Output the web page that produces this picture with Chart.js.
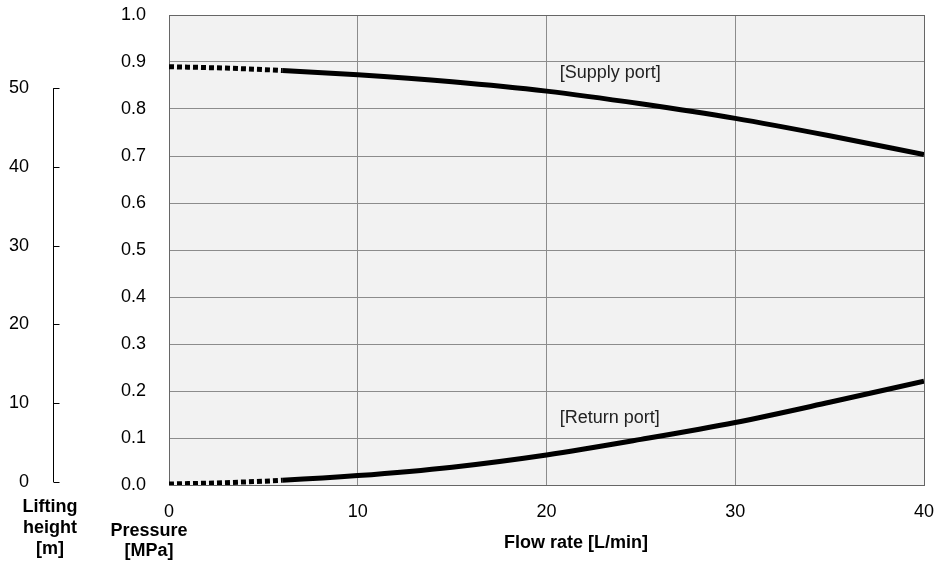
<!DOCTYPE html>
<html>
<head>
<meta charset="utf-8">
<script src="https://cdn.jsdelivr.net/npm/chart.js@4/dist/chart.umd.min.js"></script>
<style>
html,body{margin:0;padding:0;background:#fff;}
#wrap{width:939px;height:562px;}
</style>
</head>
<body>
<div id="wrap"><canvas id="c" width="939" height="562"></canvas></div>
<script>
// ---- data ----
const flowRate = [0, 3, 6, 10, 15, 20, 25, 30, 35, 40];              // L/min
const supplyPressure = [0.890, 0.887, 0.882, 0.873, 0.858, 0.838, 0.811, 0.780, 0.743, 0.703]; // MPa
const returnPressure = [0.002, 0.005, 0.010, 0.020, 0.038, 0.064, 0.097, 0.133, 0.176, 0.221]; // MPa
const dottedUntil = 6;          // curves drawn dotted below this flow rate
const xTicks = [0, 10, 20, 30, 40];
const pressureTicks = [0, 0.1, 0.2, 0.3, 0.4, 0.5, 0.6, 0.7, 0.8, 0.9, 1.0];
const liftTicks = [0, 10, 20, 30, 40, 50];
const labels = {
  x: 'Flow rate [L/min]',
  pressure: ['Pressure', '[MPa]'],
  lift: ['Lifting', 'height', '[m]'],
  supply: '[Supply port]',
  ret: '[Return port]'
};

const FONT = "'Liberation Sans', Arial, sans-serif";
const toPts = arr => flowRate.map((x, i) => ({x: x, y: arr[i]}));
const segStyle = { borderDash: ctx => (ctx.p1.parsed.x <= dottedUntil ? [5, 3] : undefined) };
const noPad = s => { s.paddingTop = 0; s.paddingBottom = 0; s.paddingLeft = 0; s.paddingRight = 0; };

const plotBg = {
  id: 'plotBg',
  beforeDraw(chart) {
    const a = chart.chartArea, c = chart.ctx;
    c.save(); c.fillStyle = '#f2f2f2';
    c.fillRect(a.left, a.top, a.right - a.left, a.bottom - a.top);
    c.restore();
  }
};

const extras = {
  id: 'extras',
  afterDraw(chart) {
    const c = chart.ctx;
    const ys = chart.scales.lift, x = chart.scales.x, y = chart.scales.y;
    c.save();
    // lifting height axis line and ticks
    const lx = 53.5;
    c.strokeStyle = '#000'; c.lineWidth = 1;
    c.beginPath();
    c.moveTo(lx, ys.getPixelForValue(liftTicks[0]));
    c.lineTo(lx, ys.getPixelForValue(liftTicks[liftTicks.length - 1]));
    liftTicks.forEach(t => {
      const py = Math.round(ys.getPixelForValue(t)) + 0.5;
      c.moveTo(lx, py); c.lineTo(lx + 6, py);
    });
    c.stroke();
    // titles
    c.fillStyle = '#000';
    c.textAlign = 'center'; c.textBaseline = 'middle';
    c.font = "bold 18px " + FONT;
    labels.lift.forEach((s, i) => c.fillText(s, 50, 507 + i * 21));
    labels.pressure.forEach((s, i) => c.fillText(s, 149, 531 + i * 20));
    c.fillText(labels.x, 576, 543);
    // curve annotations
    c.font = "18px " + FONT;
    c.fillStyle = '#222';
    c.textAlign = 'left';
    c.fillText(labels.supply, x.getPixelForValue(20.7), y.getPixelForValue(0.876));
    c.fillText(labels.ret, x.getPixelForValue(20.7), y.getPixelForValue(0.142));
    c.restore();
  }
};

new Chart(document.getElementById('c'), {
  type: 'line',
  data: {
    datasets: [
      { label: 'Supply port', data: toPts(supplyPressure), borderColor: '#000', borderWidth: 5,
        pointRadius: 0, cubicInterpolationMode: 'monotone', segment: segStyle, yAxisID: 'y' },
      { label: 'Return port', data: toPts(returnPressure), borderColor: '#000', borderWidth: 5,
        pointRadius: 0, cubicInterpolationMode: 'monotone', segment: segStyle, yAxisID: 'y' }
    ]
  },
  options: {
    responsive: false,
    animation: false,
    layout: { padding: { top: 15, right: 15, bottom: 0, left: 0 } },
    plugins: { legend: { display: false }, tooltip: { enabled: false } },
    scales: {
      x: {
        type: 'linear', min: 0, max: 40,
        afterBuildTicks: s => { s.ticks = xTicks.map(v => ({value: v})); },
        ticks: { font: { family: FONT, size: 18 }, color: '#000', padding: 16, maxRotation: 0 },
        grid: { color: ctx => (ctx.tick && ctx.tick.value === 40 ? '#666' : '#8c8c8c'), lineWidth: 1, drawTicks: false },
        border: { color: '#666', width: 1 },
        afterFit: s => { s.height = 77; noPad(s); }
      },
      y: {
        position: 'left', weight: 0, min: 0, max: 1,
        afterBuildTicks: s => { s.ticks = pressureTicks.map(v => ({value: v})); },
        ticks: { font: { family: FONT, size: 18 }, color: '#000', padding: 23, callback: v => Number(v).toFixed(1) },
        grid: { color: ctx => (ctx.tick && ctx.tick.value === 1 ? '#666' : '#8c8c8c'), lineWidth: 1, drawTicks: false },
        border: { color: '#666', width: 1 },
        afterFit: s => { s.width = 104; noPad(s); }
      },
      lift: {
        position: 'left', weight: 1, min: -0.38, max: 59.29,
        afterBuildTicks: s => { s.ticks = liftTicks.map(v => ({value: v})); },
        ticks: { font: { family: FONT, size: 18 }, color: '#000', padding: 36 },
        grid: { display: false, drawTicks: false },
        border: { display: false },
        afterFit: s => { s.width = 65; noPad(s); }
      }
    }
  },
  plugins: [plotBg, extras]
});
</script>
</body>
</html>
